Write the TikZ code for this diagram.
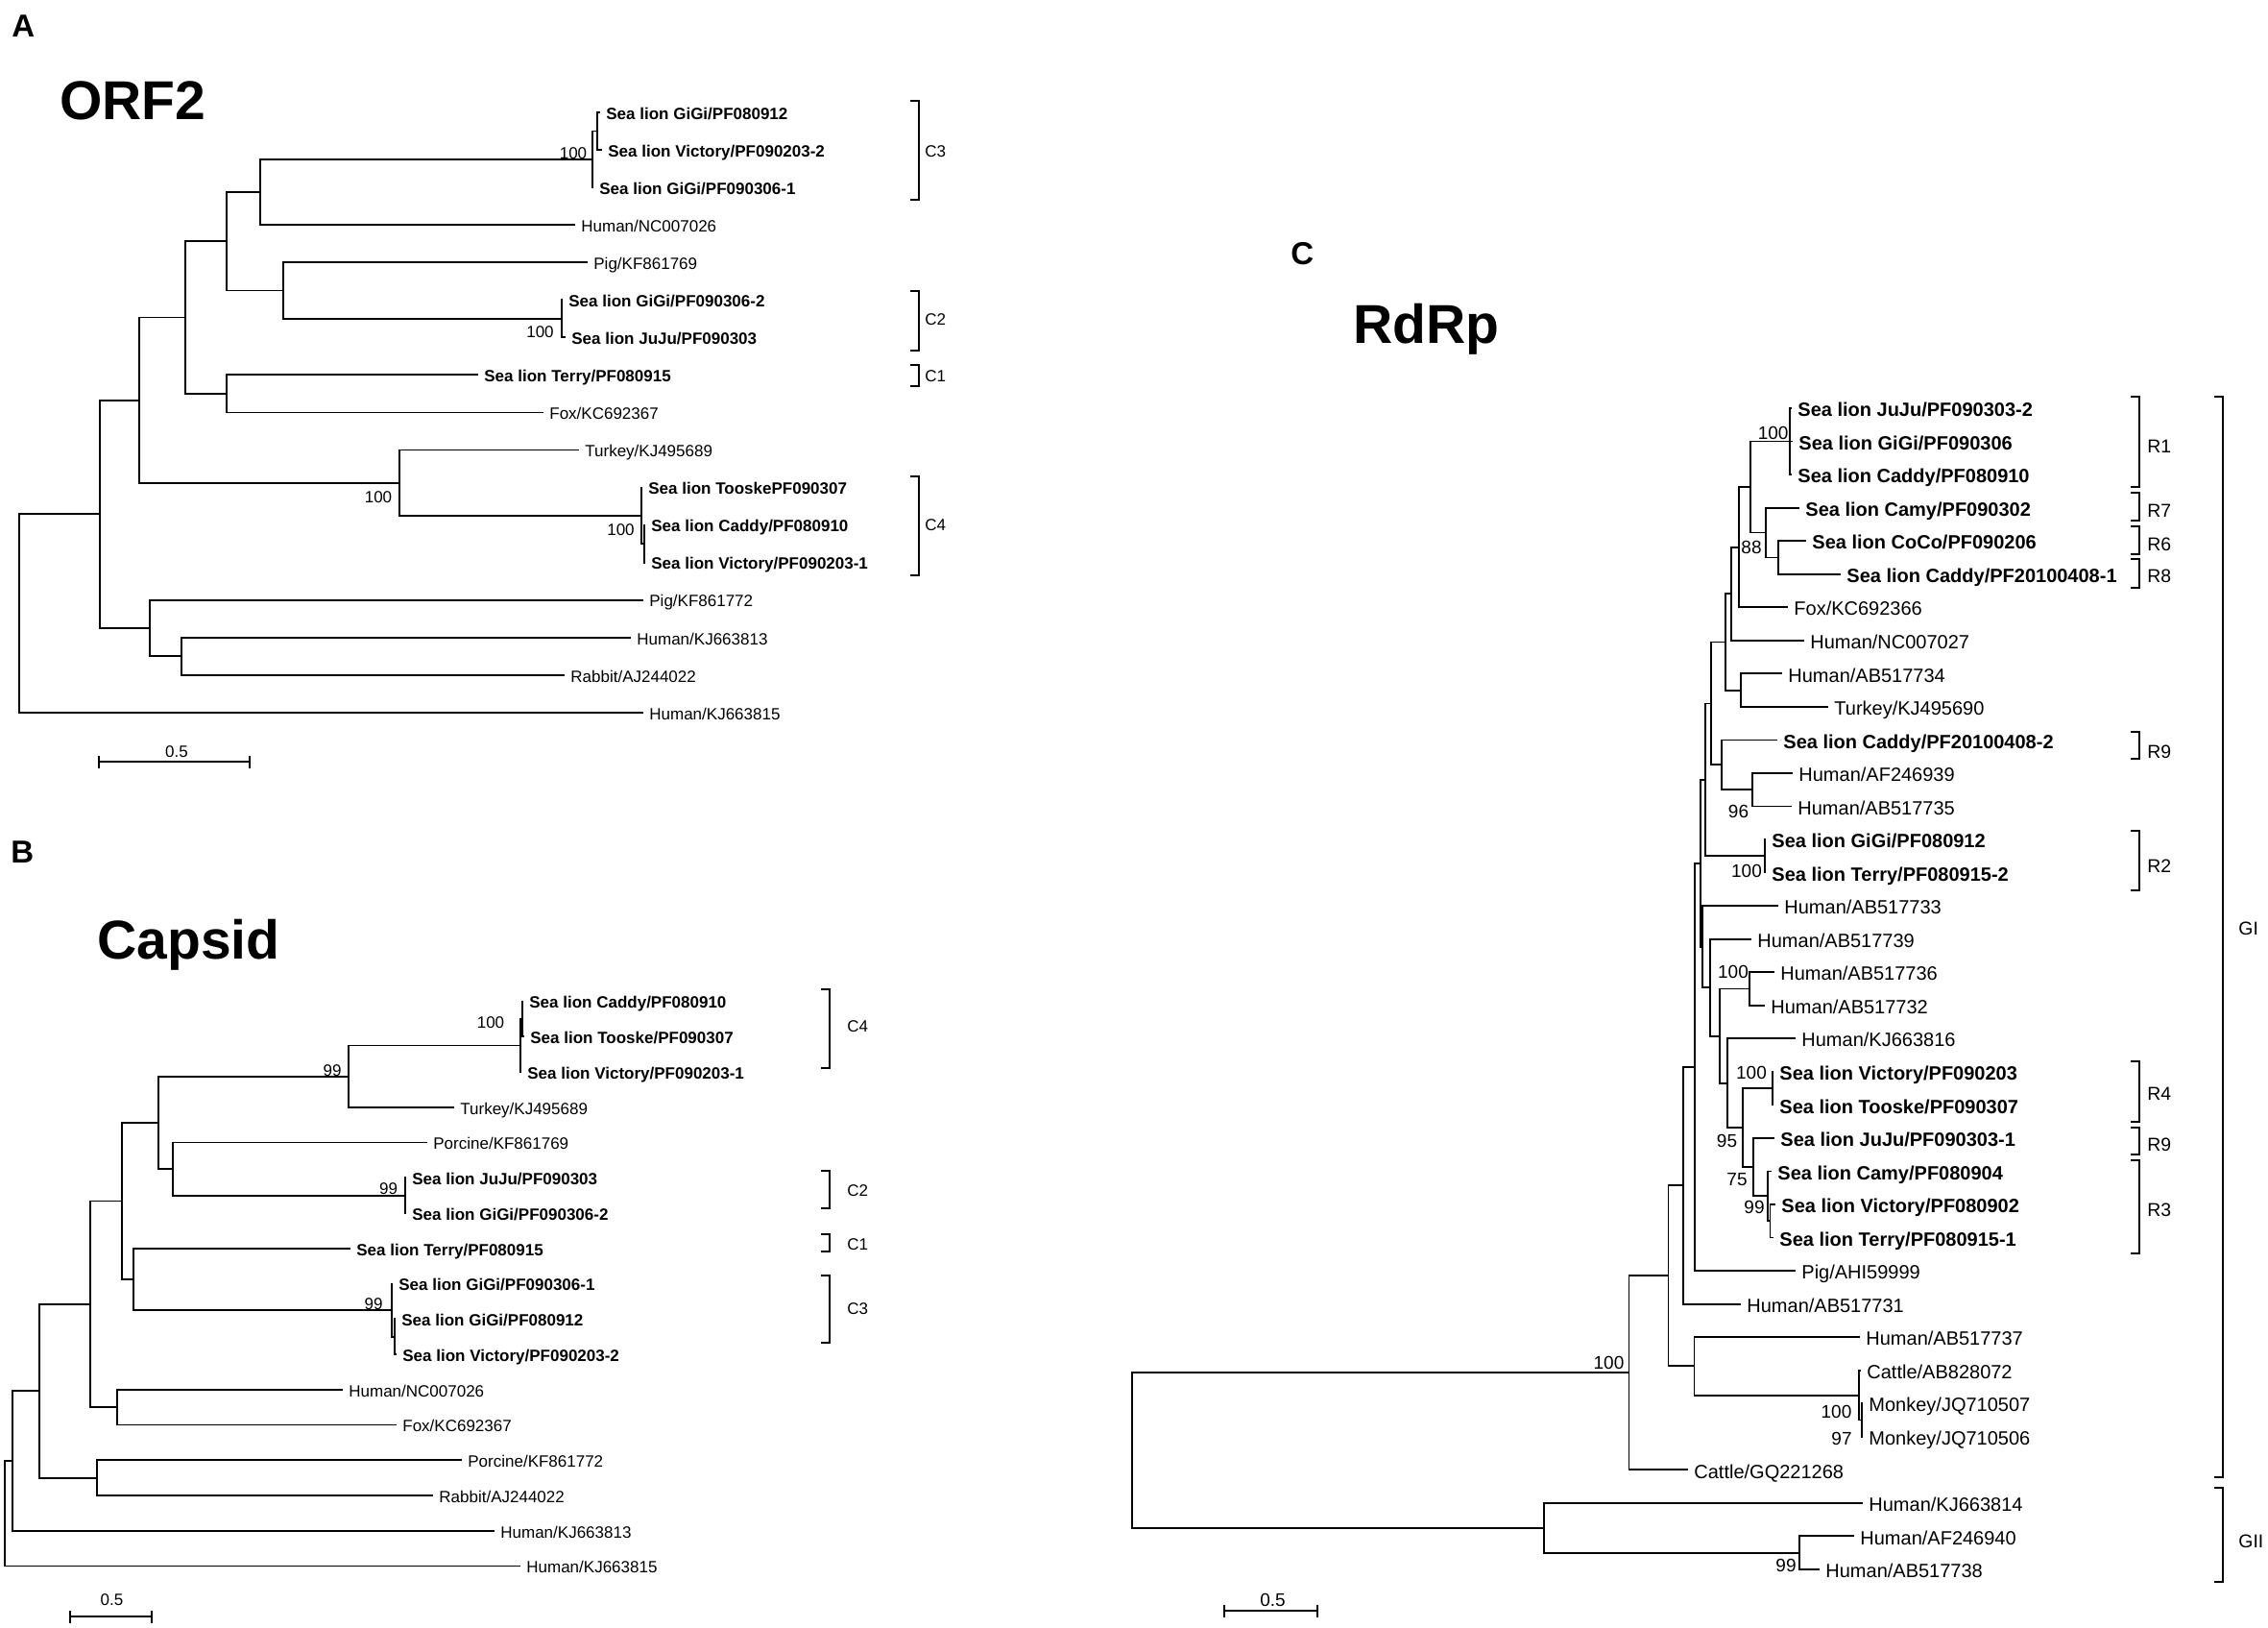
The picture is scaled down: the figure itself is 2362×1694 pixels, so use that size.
\documentclass[tikz,border=0pt]{standalone}
\usepackage{fontspec}
\setmainfont{Liberation Sans}
\usetikzlibrary{arrows.meta}

\begin{document}
\begin{tikzpicture}[x=0.5pt, y=-0.5pt,
    branch/.style={line width=0.9pt},
    leafsm/.style={anchor=west, inner xsep=3pt, inner ysep=0pt, text height=7.3pt, text depth=0pt, font=\fontsize{8.5}{10}\selectfont},
    leafbig/.style={anchor=west, inner xsep=3pt, inner ysep=0pt, text height=8.7pt, text depth=0pt, font=\fontsize{10}{12}\selectfont},
    seal/.style={execute at begin node=\bfseries},
    other/.style={},
    bootsm/.style={inner sep=0pt, font=\fontsize{8.5}{10}\selectfont},
    bootbig/.style={inner sep=0pt, font=\fontsize{9.5}{11}\selectfont},
    grpsm/.style={anchor=west, inner sep=0pt, font=\fontsize{8.5}{10}\selectfont},
    grpbig/.style={anchor=west, inner sep=0pt, font=\fontsize{9.7}{11}\selectfont},
    treetitle/.style={anchor=base west, inner sep=0pt, font=\fontsize{28.5}{30}\selectfont\bfseries},
    panelletter/.style={anchor=base west, inner sep=0pt, font=\fontsize{16.5}{18}\selectfont\bfseries},
    scalebar/.style={line width=0.9pt, {Bar[width=6.5pt]}-{Bar[width=6.5pt]}}]

    \useasboundingbox (0,0) rectangle (2362,1694);

    % titles
    \node[panelletter] (lettA) at (12,38) {A};
    \node[panelletter] (lettB) at (11,898) {B};
    \node[panelletter] (lettC) at (1344,275) {C};
    \node[treetitle] (orf) at (62,124) {ORF2};
    \node[treetitle] (capsid) at (101,998) {Capsid};
    \node[treetitle] (rdrp) at (1409,357) {RdRp};

    % ---------- A: ORF2 ----------
    \foreach \k/\x/\s/\t in {0/625/seal/{Sea lion GiGi/PF080912}, 1/627/seal/{Sea lion Victory/PF090203-2},
        2/618/seal/{Sea lion GiGi/PF090306-1}, 3/599/other/{Human/NC007026}, 4/612/other/{Pig/KF861769},
        5/586/seal/{Sea lion GiGi/PF090306-2}, 6/589/seal/{Sea lion JuJu/PF090303}, 7/498/seal/{Sea lion Terry/PF080915},
        8/566/other/{Fox/KC692367}, 9/603/other/{Turkey/KJ495689}, 10/669/seal/{Sea lion TooskePF090307},
        11/672/seal/{Sea lion Caddy/PF080910}, 12/672/seal/{Sea lion Victory/PF090203-1}, 13/670/other/{Pig/KF861772},
        14/657/other/{Human/KJ663813}, 15/588/other/{Rabbit/AJ244022}, 16/670/other/{Human/KJ663815}}
        \node[leafsm, \s] (a\k) at (\x,{117+39.05*\k}) {\t};

    \foreach \n/\x/\y in {oc3a/622/136.5, oc3/617/165.8, on5/271/200, oc2/585/331.8, on6/295/302.5,
        on4/236/251, otf/236/409.9, on3/193/330.5, oc4a/671/566.1, oc4/668/536.8, on9/416/502.7,
        on2/145/416.6, on8/189/683.3, on7/156/654, on1/104/535.3, oroot/20/638.5}
        \coordinate (\n) at (\x,\y);

    \foreach \p/\c in {oc3a/a0, oc3a/a1, oc3/oc3a, oc3/a2, on5/oc3, on5/a3, oc2/a5, oc2/a6, on6/a4, on6/oc2,
        on4/on5, on4/on6, otf/a7, otf/a8, on3/on4, on3/otf, oc4a/a11, oc4a/a12, oc4/a10, oc4/oc4a,
        on9/a9, on9/oc4, on2/on3, on2/on9, on8/a14, on8/a15, on7/a13, on7/on8, on1/on2, on1/on7,
        oroot/on1, oroot/a16}
        \draw[branch] (\p) |- (\c);

    \foreach \x/\y/\v [count=\i] in {597/159.5/100, 562.5/346/100, 394/518/100, 646.5/552/100}
        \node[bootsm] (oboot\i) at (\x,\y) {\v};

    \foreach \ya/\yb/\ly/\lab [count=\i] in {105/208/158/C3, 303/365/333/C2, 380/402/392/C1, 496/599/547/C4} {
        \draw[branch] (948,\ya) -- (957,\ya) -- (957,\yb) -- (948,\yb);
        \node[grpsm] (ogrp\i) at (963,\ly) {\lab};
    }

    \coordinate (osl) at (102,793);
    \coordinate (osr) at (261,793);
    \draw[scalebar] (osl) -- (osr);
    \node[bootsm] (oscale) at (184,782.5) {0.5};

    % ---------- B: Capsid ----------
    \foreach \k/\x/\s/\t in {0/545/seal/{Sea lion Caddy/PF080910}, 1/546/seal/{Sea lion Tooske/PF090307},
        2/543/seal/{Sea lion Victory/PF090203-1}, 3/473/other/{Turkey/KJ495689}, 4/445/other/{Porcine/KF861769},
        5/423/seal/{Sea lion JuJu/PF090303}, 6/423/seal/{Sea lion GiGi/PF090306-2}, 7/365/seal/{Sea lion Terry/PF080915},
        8/409/seal/{Sea lion GiGi/PF090306-1}, 9/412/seal/{Sea lion GiGi/PF080912}, 10/413/seal/{Sea lion Victory/PF090203-2},
        11/357/other/{Human/NC007026}, 12/413/other/{Fox/KC692367}, 13/481/other/{Porcine/KF861772},
        14/451/other/{Rabbit/AJ244022}, 15/515/other/{Human/KJ663813}, 16/542/other/{Human/KJ663815}}
        \node[leafsm, \s] (b\k) at (\x,{1042.5+36.75*\k}) {\t};

    \foreach \n/\x/\y in {bc4a/544/1060.9, bc4/542/1088.5, bg/363/1120.6, bc2/422/1244.6, bh/180/1217,
        be/165/1168.8, bc3a/411/1391.6, bc3/408/1364, bf/139/1331.9, bd/127/1250.4, bhf/122/1465,
        bc/94/1357.7, bpr/101/1538.6, bb/41/1448, ba/13/1521, broot/5/1575.7}
        \coordinate (\n) at (\x,\y);

    \foreach \p/\c in {bc4a/b0, bc4a/b1, bc4/bc4a, bc4/b2, bg/bc4, bg/b3, bc2/b5, bc2/b6, bh/b4, bh/bc2,
        be/bg, be/bh, bc3a/b9, bc3a/b10, bc3/b8, bc3/bc3a, bf/b7, bf/bc3, bd/be, bd/bf, bhf/b11, bhf/b12,
        bc/bd, bc/bhf, bpr/b13, bpr/b14, bb/bc, bb/bpr, ba/bb, ba/b15, broot/ba, broot/b16}
        \draw[branch] (\p) |- (\c);

    \foreach \x/\y/\v [count=\i] in {511/1065/100, 346/1115/99, 404.5/1237.5/99, 389/1357.5/99}
        \node[bootsm] (bboot\i) at (\x,\y) {\v};

    \foreach \ya/\yb/\ly/\lab [count=\i] in {1030/1112/1069/C4, 1219/1258/1240/C2, 1285/1303/1296/C1, 1328/1398/1363/C3} {
        \draw[branch] (855,\ya) -- (864,\ya) -- (864,\yb) -- (855,\yb);
        \node[grpsm] (bgrp\i) at (882,\ly) {\lab};
    }

    \coordinate (bsl) at (72,1683);
    \coordinate (bsr) at (159,1683);
    \draw[scalebar] (bsl) -- (bsr);
    \node[bootsm] (bscale) at (116.5,1666) {0.5};

    % ---------- C: RdRp ----------
    \foreach \k/\x/\s/\t in {0/1866/seal/{Sea lion JuJu/PF090303-2}, 1/1867/seal/{Sea lion GiGi/PF090306},
        2/1866/seal/{Sea lion Caddy/PF080910}, 3/1874/seal/{Sea lion Camy/PF090302}, 4/1881/seal/{Sea lion CoCo/PF090206},
        5/1917/seal/{Sea lion Caddy/PF20100408-1}, 6/1862/other/{Fox/KC692366}, 7/1879/other/{Human/NC007027},
        8/1856/other/{Human/AB517734}, 9/1904/other/{Turkey/KJ495690}, 10/1851/seal/{Sea lion Caddy/PF20100408-2},
        11/1867/other/{Human/AF246939}, 12/1866/other/{Human/AB517735}, 13/1839/seal/{Sea lion GiGi/PF080912},
        14/1839/seal/{Sea lion Terry/PF080915-2}, 15/1852/other/{Human/AB517733}, 16/1824/other/{Human/AB517739},
        17/1848/other/{Human/AB517736}, 18/1838/other/{Human/AB517732}, 19/1870/other/{Human/KJ663816},
        20/1847/seal/{Sea lion Victory/PF090203}, 21/1847/seal/{Sea lion Tooske/PF090307},
        22/1848/seal/{Sea lion JuJu/PF090303-1}, 23/1845/seal/{Sea lion Camy/PF080904},
        24/1849/seal/{Sea lion Victory/PF080902}, 25/1847/seal/{Sea lion Terry/PF080915-1},
        26/1870/other/{Pig/AHI59999}, 27/1813/other/{Human/AB517731}, 28/1937/other/{Human/AB517737},
        29/1938/other/{Cattle/AB828072}, 30/1940/other/{Monkey/JQ710507}, 31/1940/other/{Monkey/JQ710506},
        32/1758/other/{Cattle/GQ221268}, 33/1940/other/{Human/KJ663814}, 34/1931/other/{Human/AF246940},
        35/1895/other/{Human/AB517738}}
        \node[leafbig, \s] (r\k) at (\x,{425+34.54*\k}) {\t};

    \foreach \n/\x/\y in {rr1/1864/459.5, ra3/1852.3/580.5, ra2/1839.3/554.5, ra1/1823.3/507, ra0/1811/569.6,
        rb0/1803.3/618.2, rd0/1813.3/718.6, rc0/1796.7/668.4, rg0/1825/822.2, rf0/1793.3/796.3,
        re0/1781.7/732.4, rr2/1837.7/891.3, rh0/1776/811.8, rm1/1821.7/1029.5, rr4/1846/1133,
        rr3a/1843.5/1271.3, rr3/1841/1245.3, rp0/1826/1215.1, ro0/1815/1174, rn0/1799.3/1127.7,
        rm0/1790.7/1078.6, rl0/1781/1028.1, rj0/1773.3/985.6, ri0/1770.7/898.7, rk0/1765/1110.9,
        rq0/1753.3/1234.2, rmk/1939/1478.5, rs0/1936/1452.6, rt0/1764.5/1422.3, rp/1737.5/1328.3,
        rgi/1696.5/1429.3, rg2a/1874/1616.6, rgii/1607.6/1590.7, rroot/1178.6/1510}
        \coordinate (\n) at (\x,\y);

    \foreach \p/\c in {rr1/r0, rr1/r1, rr1/r2, ra3/r4, ra3/r5, ra2/r3, ra2/ra3, ra1/rr1, ra1/ra2,
        ra0/ra1, ra0/r6, rb0/ra0, rb0/r7, rd0/r8, rd0/r9, rc0/rb0, rc0/rd0, rg0/r11, rg0/r12,
        rf0/r10, rf0/rg0, re0/rc0, re0/rf0, rr2/r13, rr2/r14, rh0/re0, rh0/rr2, rm1/r17, rm1/r18,
        rr4/r20, rr4/r21, rr3a/r24, rr3a/r25, rr3/r23, rr3/rr3a, rp0/r22, rp0/rr3, ro0/rr4, ro0/rp0,
        rn0/r19, rn0/ro0, rm0/rm1, rm0/rn0, rl0/r16, rl0/rm0, rj0/r15, rj0/rl0, ri0/rh0, ri0/rj0,
        rk0/ri0, rk0/r26, rq0/rk0, rq0/r27, rmk/r30, rmk/r31, rs0/r29, rs0/rmk, rt0/r28, rt0/rs0,
        rp/rq0, rp/rt0, rgi/rp, rgi/r32, rg2a/r34, rg2a/r35, rgii/r33, rgii/rg2a, rroot/rgi, rroot/rgii}
        \draw[branch] (\p) |- (\c);

    \foreach \x/\y/\v [count=\i] in {1846.7/450.5/100, 1824/570/88, 1810.5/845/96, 1819/906.5/100,
        1805/1012/100, 1824/1116.5/100, 1798.5/1187.5/95, 1809/1228.5/75, 1827/1256.5/99,
        1675.5/1418.5/100, 1912.5/1470/100, 1918/1497.5/97, 1860/1630/99}
        \node[bootbig] (rboot\i) at (\x,\y) {\v};

    \foreach \ya/\yb/\ly/\lab [count=\i] in {413/507/465/R1, 513/542/532/R7, 548/577/567/R6, 582/612/600/R8,
        762/790/783/R9, 865/927/902/R2, 1105/1168/1139/R4, 1174/1202/1192/R9, 1208/1305/1260/R3} {
        \draw[branch] (2219,\ya) -- (2228,\ya) -- (2228,\yb) -- (2219,\yb);
        \node[grpbig] (rgrp\i) at (2236,\ly) {\lab};
    }
    \foreach \ya/\yb/\ly/\lab [count=\i] in {413/1538/967/GI, 1549/1647/1605/GII} {
        \draw[branch] (2306,\ya) -- (2315,\ya) -- (2315,\yb) -- (2306,\yb);
        \node[grpbig] (rgen\i) at (2331,\ly) {\lab};
    }

    \coordinate (rsl) at (1274,1677);
    \coordinate (rsr) at (1373,1677);
    \draw[scalebar] (rsl) -- (rsr);
    \node[bootbig] (rscale) at (1325.5,1666) {0.5};

\end{tikzpicture}
\end{document}
